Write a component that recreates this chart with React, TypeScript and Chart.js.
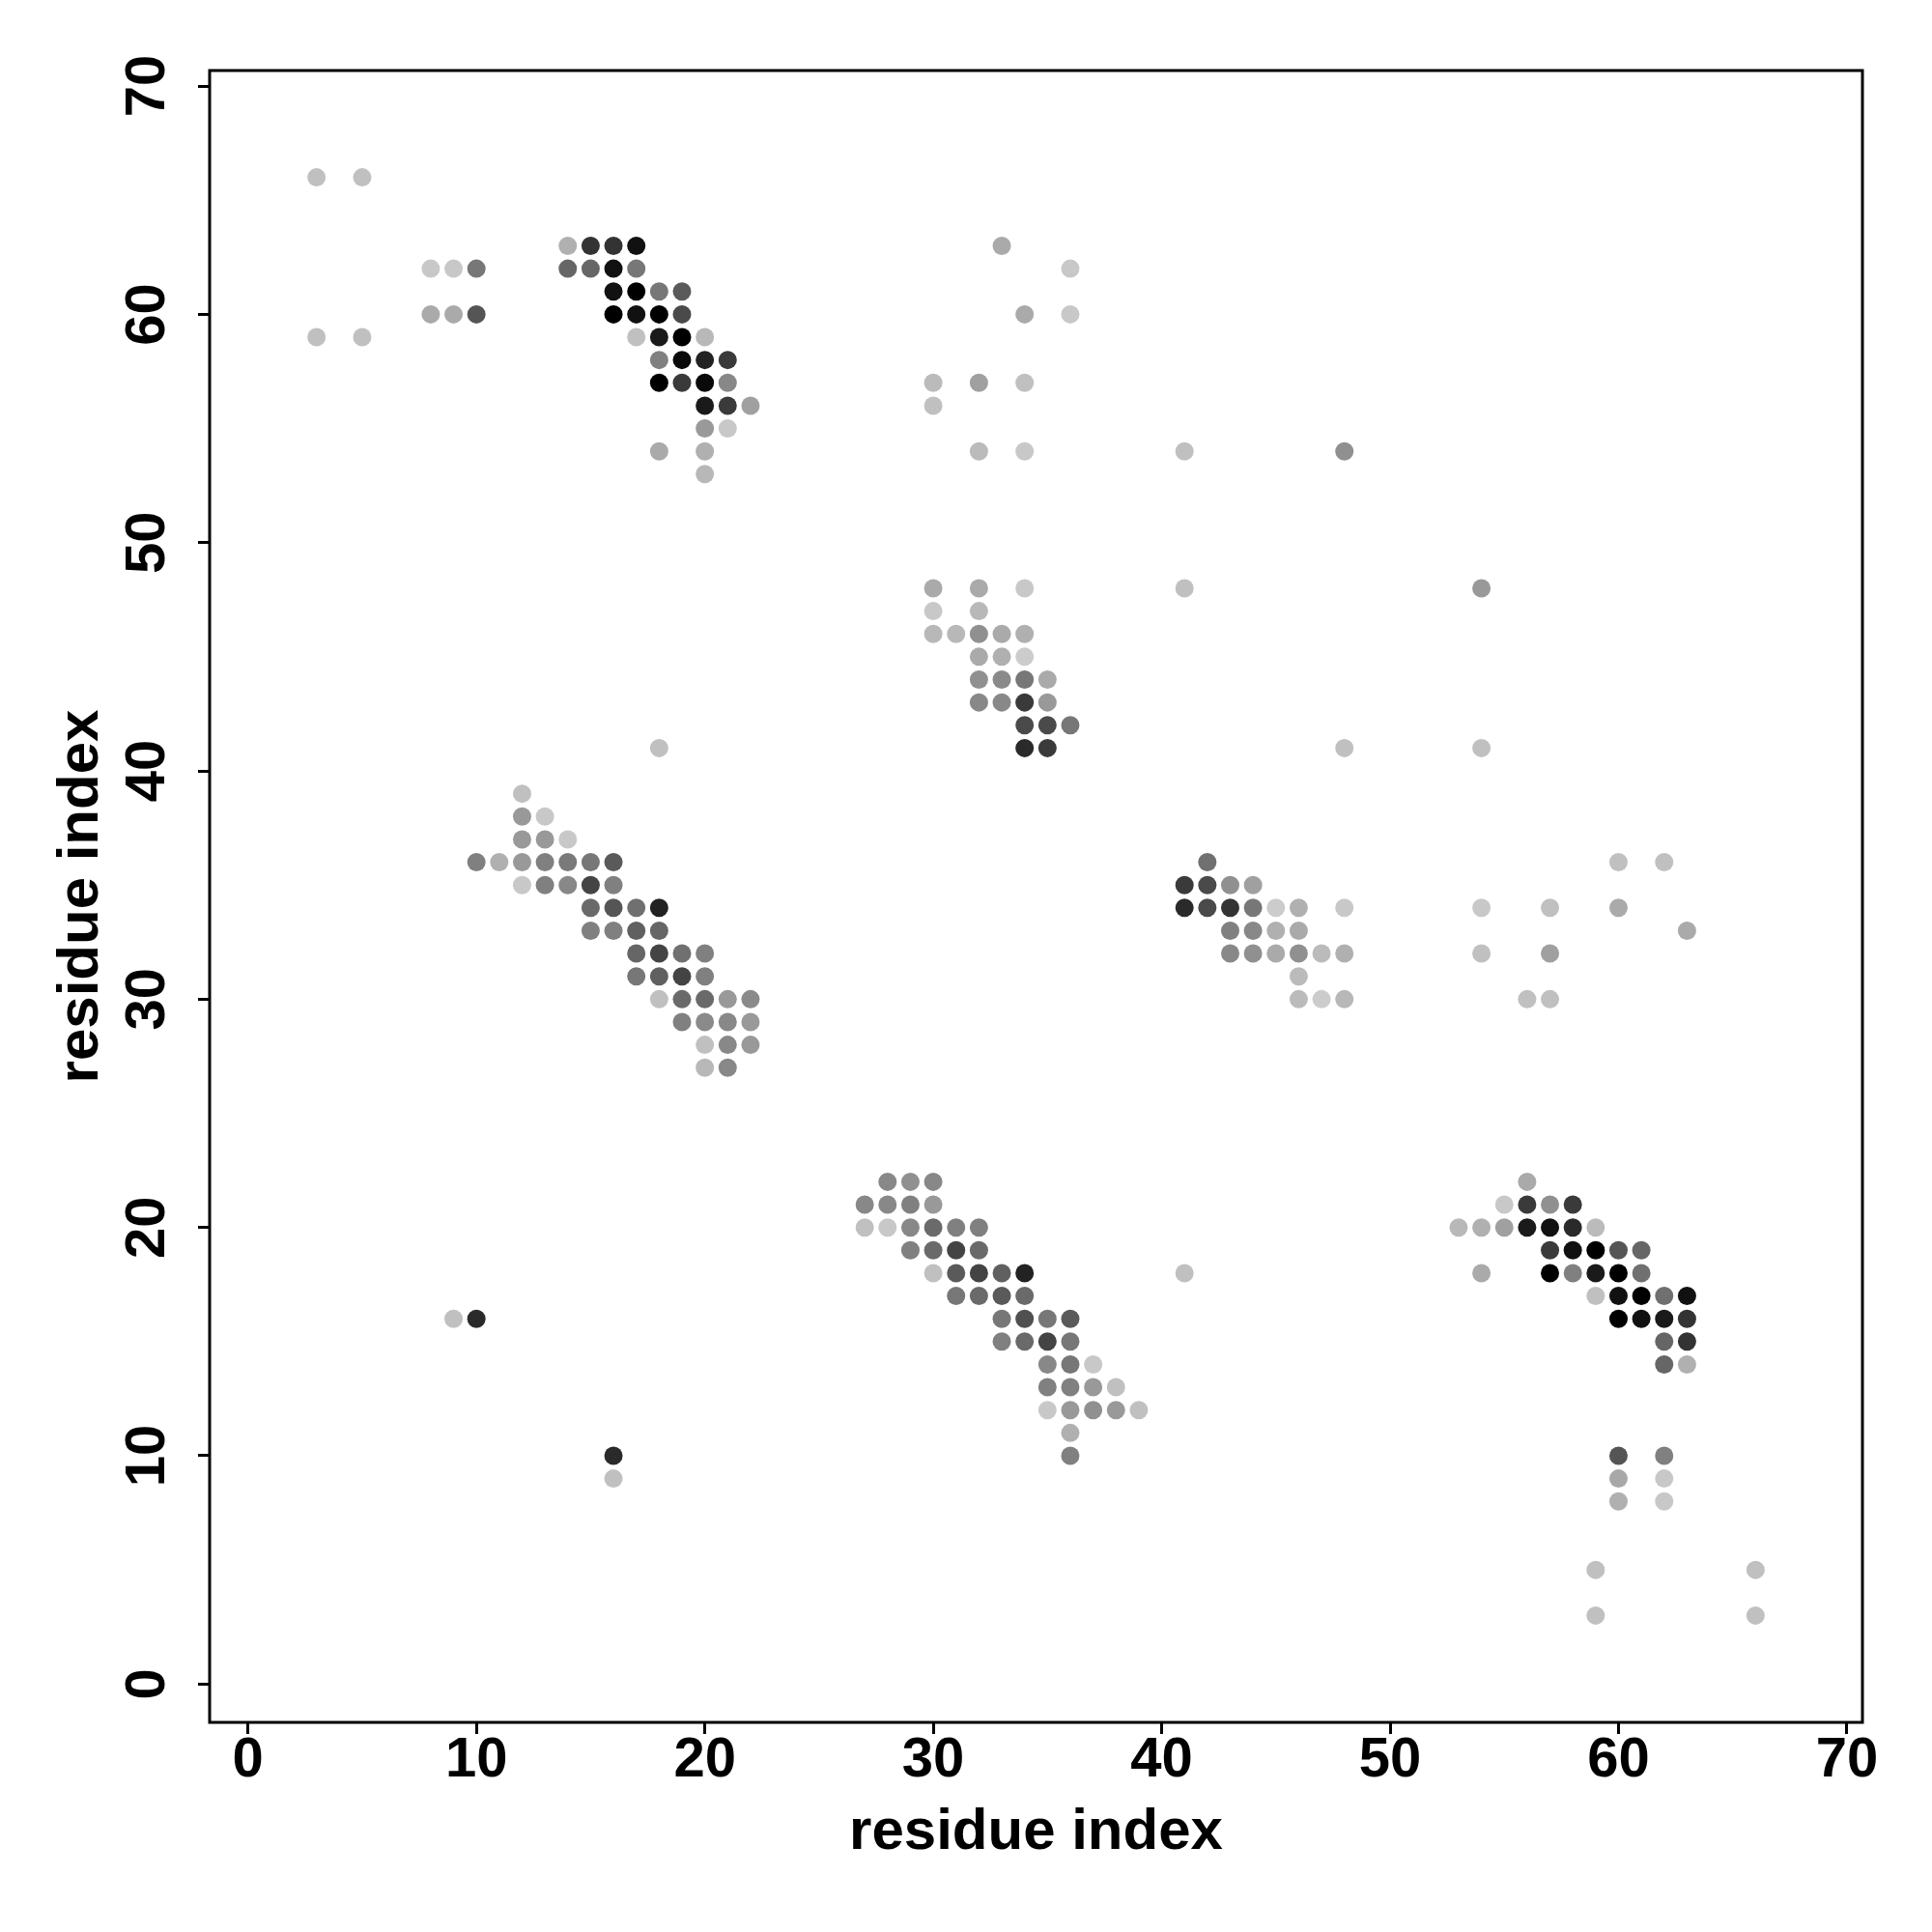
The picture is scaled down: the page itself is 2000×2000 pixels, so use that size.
import React, { useEffect, useRef } from "react";
import { Chart, registerables } from "chart.js";

Chart.register(...registerables);

// Axis set-up
const xTicks = [0, 10, 20, 30, 40, 50, 60, 70];
const yTicks = [0, 10, 20, 30, 40, 50, 60, 70];
const axisMin = -1.68;
const axisMax = 70.68;
const xTitle = "residue index";
const yTitle = "residue index";

// Contacts: [residue i, residue j, grey level 0 (black) .. 255 (white)]
type Contact = [number, number, number];

const farCorner: Contact[] = [
  [3, 66, 0xc0], [5, 66, 0xc0], [3, 59, 0xc0], [5, 59, 0xc0],
  [8, 62, 0xc8], [9, 62, 0xc8], [10, 62, 0x77],
  [8, 60, 0xaa], [9, 60, 0xaa], [10, 60, 0x55],
];

const hairpinTop: Contact[] = [
  [14, 63, 0xb0], [15, 63, 0x33], [16, 63, 0x33], [17, 63, 0x11],
  [14, 62, 0x66], [15, 62, 0x66], [16, 62, 0x11], [17, 62, 0x77],
  [16, 61, 0x11], [17, 61, 0x00], [18, 61, 0x77], [19, 61, 0x5a],
  [16, 60, 0x00], [17, 60, 0x11], [18, 60, 0x00], [19, 60, 0x4a],
  [17, 59, 0xc0], [18, 59, 0x1a], [19, 59, 0x00], [20, 59, 0xb8],
  [18, 58, 0x80], [19, 58, 0x0a], [20, 58, 0x22], [21, 58, 0x3a],
  [18, 57, 0x00], [19, 57, 0x3a], [20, 57, 0x0a], [21, 57, 0x88],
  [20, 56, 0x1a], [21, 56, 0x3a], [22, 56, 0xa0],
  [20, 55, 0x99], [21, 55, 0xc8],
  [18, 54, 0xaa], [20, 54, 0xb0],
  [20, 53, 0xb8],
];

const sheetLeft: Contact[] = [
  [18, 41, 0xc0],
  [12, 39, 0xc0],
  [12, 38, 0x99], [13, 38, 0xc8],
  [12, 37, 0x99], [13, 37, 0x99], [14, 37, 0xc8],
  [10, 36, 0x80], [11, 36, 0xb0], [12, 36, 0x99], [13, 36, 0x80], [14, 36, 0x7a], [15, 36, 0x77], [16, 36, 0x5a],
  [12, 35, 0xc8], [13, 35, 0x80], [14, 35, 0x88], [15, 35, 0x44], [16, 35, 0x80],
  [15, 34, 0x6a], [16, 34, 0x55], [17, 34, 0x70], [18, 34, 0x22],
  [15, 33, 0x80], [16, 33, 0x80], [17, 33, 0x60], [18, 33, 0x66],
  [17, 32, 0x66], [18, 32, 0x44], [19, 32, 0x70], [20, 32, 0x80],
  [17, 31, 0x77], [18, 31, 0x60], [19, 31, 0x44], [20, 31, 0x80],
  [18, 30, 0xc0], [19, 30, 0x6a], [20, 30, 0x6a], [21, 30, 0x99], [22, 30, 0x8a],
  [19, 29, 0x80], [20, 29, 0x8a], [21, 29, 0x88], [22, 29, 0x99],
  [20, 28, 0xc0], [21, 28, 0x88], [22, 28, 0x99],
  [20, 27, 0xb8], [21, 27, 0x88],
];

const upperMiddle: Contact[] = [
  [33, 63, 0xaa], [36, 62, 0xc8], [34, 60, 0xaa], [36, 60, 0xc8],
  [30, 57, 0xbb], [32, 57, 0xa0], [34, 57, 0xc0], [30, 56, 0xc0],
  [32, 54, 0xbb], [34, 54, 0xc8],
];

const sheetMid: Contact[] = [
  [30, 48, 0xaa], [32, 48, 0xaa], [34, 48, 0xc8],
  [30, 47, 0xc8], [32, 47, 0xb8],
  [30, 46, 0xb8], [31, 46, 0xb8], [32, 46, 0x90], [33, 46, 0xaa], [34, 46, 0xb0],
  [32, 45, 0xaa], [33, 45, 0xb0], [34, 45, 0xcc],
  [32, 44, 0x90], [33, 44, 0x8a], [34, 44, 0x77], [35, 44, 0xaa],
  [32, 43, 0x88], [33, 43, 0x88], [34, 43, 0x3a], [35, 43, 0x99],
  [34, 42, 0x4a], [35, 42, 0x4a], [36, 42, 0x77],
  [34, 41, 0x2a], [35, 41, 0x3a],
];

const scatteredRight: Contact[] = [
  [41, 54, 0xc0], [48, 54, 0x90], [41, 48, 0xc0], [48, 41, 0xc0],
  [54, 48, 0x99], [54, 41, 0xc0], [60, 36, 0xc0], [62, 36, 0xc0],
  [54, 34, 0xc8], [57, 34, 0xc0], [60, 34, 0xaa], [63, 33, 0xaa],
  [54, 32, 0xc0], [57, 32, 0xa0], [56, 30, 0xc0], [57, 30, 0xc0],
  [41, 18, 0xc0],
];

const sheetRight: Contact[] = [
  [42, 36, 0x70],
  [41, 35, 0x3a], [42, 35, 0x4a], [43, 35, 0x90], [44, 35, 0xa0],
  [41, 34, 0x2a], [42, 34, 0x4a], [43, 34, 0x33], [44, 34, 0x77], [45, 34, 0xcc], [46, 34, 0xb0], [48, 34, 0xc8],
  [43, 33, 0x80], [44, 33, 0x88], [45, 33, 0xb0], [46, 33, 0xaa],
  [43, 32, 0x88], [44, 32, 0x90], [45, 32, 0xaa], [46, 32, 0x90], [47, 32, 0xbb], [48, 32, 0xb0],
  [46, 31, 0xbb],
  [46, 30, 0xbb], [47, 30, 0xcc], [48, 30, 0xb8],
];

const sheetLow: Contact[] = [
  [28, 22, 0x88], [29, 22, 0x90], [30, 22, 0x88],
  [27, 21, 0x88], [28, 21, 0x88], [29, 21, 0x80], [30, 21, 0x99],
  [27, 20, 0xc0], [28, 20, 0xc8], [29, 20, 0x88], [30, 20, 0x6a], [31, 20, 0x80], [32, 20, 0x80],
  [29, 19, 0x80], [30, 19, 0x6a], [31, 19, 0x44], [32, 19, 0x6a],
  [30, 18, 0xc0], [31, 18, 0x5a], [32, 18, 0x44], [33, 18, 0x60], [34, 18, 0x22],
  [31, 17, 0x77], [32, 17, 0x6a], [33, 17, 0x5a], [34, 17, 0x6a],
  [33, 16, 0x77], [34, 16, 0x50], [35, 16, 0x77], [36, 16, 0x5a],
  [33, 15, 0x80], [34, 15, 0x6a], [35, 15, 0x44], [36, 15, 0x77],
  [35, 14, 0x88], [36, 14, 0x77], [37, 14, 0xc8],
  [35, 13, 0x80], [36, 13, 0x80], [37, 13, 0x99], [38, 13, 0xc0],
  [35, 12, 0xc8], [36, 12, 0x99], [37, 12, 0x90], [38, 12, 0x99], [39, 12, 0xc0],
  [36, 11, 0xb0],
  [36, 10, 0x80],
];

const hairpinLow: Contact[] = [
  [56, 22, 0xaa],
  [55, 21, 0xc8], [56, 21, 0x3a], [57, 21, 0x90], [58, 21, 0x3a],
  [53, 20, 0xb8], [54, 20, 0xb0], [55, 20, 0xa0], [56, 20, 0x1a], [57, 20, 0x11], [58, 20, 0x2a], [59, 20, 0xbb],
  [57, 19, 0x3a], [58, 19, 0x11], [59, 19, 0x00], [60, 19, 0x55], [61, 19, 0x66],
  [54, 18, 0xaa], [57, 18, 0x00], [58, 18, 0x80], [59, 18, 0x1a], [60, 18, 0x00], [61, 18, 0x70],
  [59, 17, 0xc0], [60, 17, 0x11], [61, 17, 0x00], [62, 17, 0x70], [63, 17, 0x11],
  [60, 16, 0x00], [61, 16, 0x11], [62, 16, 0x1a], [63, 16, 0x33],
  [62, 15, 0x66], [63, 15, 0x33],
  [62, 14, 0x66], [63, 14, 0xb0],
  [60, 10, 0x55], [62, 10, 0x80],
  [60, 9, 0xa8], [62, 9, 0xc8],
  [60, 8, 0xb0], [62, 8, 0xc8],
];

const lowCorner: Contact[] = [
  [59, 5, 0xc0], [66, 5, 0xc0], [59, 3, 0xc0], [66, 3, 0xc0],
  [9, 16, 0xc0], [10, 16, 0x2a], [16, 10, 0x2a], [16, 9, 0xc0],
];

const FONT_FAMILY = '"Liberation Sans", Arial, Helvetica, sans-serif';

const framePlugin = {
  id: "rFrame",
  afterDatasetsDraw(chart: any) {
    const { ctx, chartArea } = chart;
    ctx.save();
    ctx.strokeStyle = "#000";
    ctx.lineWidth = 3;
    ctx.strokeRect(chartArea.left, chartArea.top, chartArea.right - chartArea.left, chartArea.bottom - chartArea.top);
    ctx.restore();
  },
  afterDraw(chart: any) {
    const { ctx, chartArea, scales } = chart;
    const xs = scales.x;
    const ys = scales.y;
    ctx.save();
    ctx.fillStyle = "#000";
    ctx.font = `bold 58px ${FONT_FAMILY}`;
    ctx.textAlign = "center";
    ctx.textBaseline = "alphabetic";
    for (const v of xTicks) {
      ctx.fillText(String(v), xs.getPixelForValue(v), chartArea.bottom + 56);
    }
    for (const v of yTicks) {
      ctx.save();
      ctx.translate(chartArea.left - 47, ys.getPixelForValue(v));
      ctx.rotate(-Math.PI / 2);
      ctx.fillText(String(v), 0, 0);
      ctx.restore();
    }
    ctx.font = `bold 60px ${FONT_FAMILY}`;
    ctx.fillText(xTitle, (chartArea.left + chartArea.right) / 2, chartArea.bottom + 131);
    ctx.save();
    ctx.translate(chartArea.left - 116, (chartArea.top + chartArea.bottom) / 2);
    ctx.rotate(-Math.PI / 2);
    ctx.fillText(yTitle, 0, 0);
    ctx.restore();
    ctx.restore();
  },
};

export default function App() {
  const ref = useRef<HTMLCanvasElement>(null);
  useEffect(() => {
    const all: Contact[] = [
      ...farCorner, ...hairpinTop, ...sheetLeft, ...upperMiddle, ...sheetMid,
      ...scatteredRight, ...sheetRight, ...sheetLow, ...hairpinLow, ...lowCorner,
    ];
    const tickAxis = (ticks: number[], horizontal: boolean) => ({
      type: "linear" as const,
      min: axisMin,
      max: axisMax,
      afterBuildTicks: (s: any) => {
        s.ticks = ticks.map((v) => ({ value: v }));
      },
      afterFit: (s: any) => {
        if (horizontal) s.height = 0;
        else s.width = 0;
      },
      ticks: { display: false, autoSkip: false },
      grid: {
        display: true,
        drawOnChartArea: false,
        drawTicks: true,
        tickLength: 12,
        tickWidth: 3,
        tickColor: "#000",
      },
      border: { display: false },
    });
    const chart = new Chart(ref.current as HTMLCanvasElement, {
      type: "scatter",
      data: {
        datasets: [
          {
            data: all.map(([x, y]) => ({ x, y })),
            backgroundColor: all.map(([, , g]) => `rgb(${g},${g},${g})`),
            borderWidth: 0,
            pointRadius: 9.5,
            pointHoverRadius: 9.5,
          },
        ],
      },
      options: {
        animation: false,
        responsive: false,
        devicePixelRatio: 1,
        events: [],
        layout: { padding: { left: 217, top: 73, right: 72, bottom: 217 } },
        plugins: { legend: { display: false }, tooltip: { enabled: false } },
        scales: {
          x: tickAxis(xTicks, true),
          y: tickAxis(yTicks, false),
        },
      },
      plugins: [framePlugin],
    });
    return () => chart.destroy();
  }, []);
  return (
    <div style={{ position: "absolute", left: 0, top: 0, width: 2000, height: 2000, background: "#fff" }}>
      <canvas ref={ref} width={2000} height={2000} style={{ width: 2000, height: 2000, display: "block" }} />
    </div>
  );
}
